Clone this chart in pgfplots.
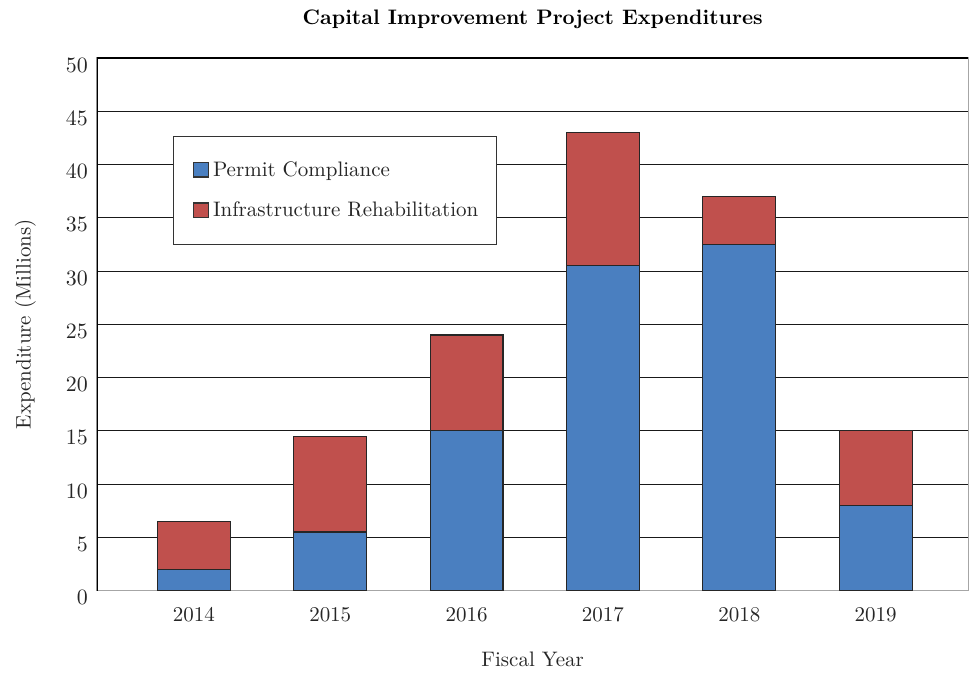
\documentclass[border=0pt]{standalone}
\usepackage{pgfplots}
\pgfplotsset{compat=1.18}
\definecolor{pblue}{RGB}{74,127,192}
\definecolor{pred}{RGB}{192,80,77}
\begin{document}
\begin{tikzpicture}
\begin{axis}[
  scale only axis,
  width=436pt, height=266.5pt,
  ybar stacked,
  bar width=36.5pt,
  xmin=-0.711, xmax=5.68,
  ymin=0, ymax=50,
  ytick={0,5,...,50},
  xtick={0,1,2,3,4,5},
  xticklabels={2014,2015,2016,2017,2018,2019},
  major tick length=0pt,
  ymajorgrids,
  grid style={black!90, line width=0.5pt},
  axis line style={gray!70, line width=0.6pt},
  tick label style={font=\fontsize{10.5}{12}\selectfont, text=black!85},
  yticklabel style={yshift=-3.5pt, xshift=-1pt},
  xticklabel style={yshift=-5pt},
  ylabel={Expenditure (Millions)},
  xlabel={Fiscal Year},
  label style={font=\fontsize{10.5}{12}\selectfont, text=black!85},
  ylabel style={at={(axis description cs:0,0.5)}, anchor=south, yshift=27pt},
  xlabel style={yshift=-8pt},
  title={\textbf{Capital Improvement Project Expenditures}},
  title style={font=\fontsize{10.5}{12}\selectfont, yshift=5pt},
  legend style={at={(rel axis cs:0.087,0.854)}, anchor=north west,
    draw=black!80, line width=0.6pt, font=\fontsize{10.5}{12}\selectfont,
    inner xsep=7pt, inner ysep=10.5pt, row sep=7.5pt, text=black!85,
    /tikz/every even column/.append style={column sep=1pt}},
  legend cell align=left,
  legend image code/.code={\path (0,0); \draw[#1, draw=black!80] (0.1cm,-0.12cm) rectangle (0.36cm,0.14cm);},
]
\addplot[fill=pblue, draw=black!85, line width=0.6pt] coordinates {(0,2) (1,5.5) (2,15) (3,30.5) (4,32.5) (5,8)};
\addplot[fill=pred, draw=black!85, line width=0.6pt] coordinates {(0,4.5) (1,9) (2,9) (3,12.5) (4,4.5) (5,7)};
\legend{Permit Compliance, Infrastructure Rehabilitation}
\draw[black, line width=0.7pt] (rel axis cs:0,0) -- (rel axis cs:0,1) -- (rel axis cs:1,1);
\end{axis}
\path (current axis.south west) ++(-48.5pt,-41.5pt) coordinate (bl);
\path (current axis.north east) ++(0,29pt) coordinate (tr);
\path[use as bounding box] (bl) rectangle (tr);
\end{tikzpicture}
\end{document}
